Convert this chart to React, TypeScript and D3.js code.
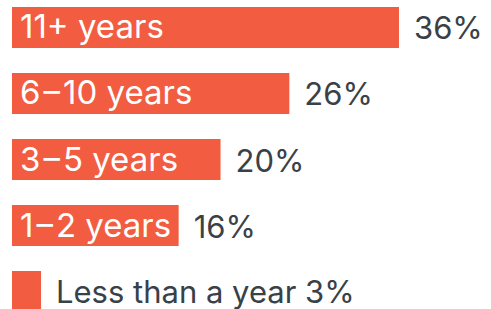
import React from "react";
import * as d3 from "d3";

const categories = ["11+ years", "6\u200A–\u200A10 years", "3\u200A–\u200A5 years", "1\u200A–\u200A2 years", "Less than a year"];
const values = [36, 25.8, 19.4, 15.5, 2.7];
const valueLabels = ["36%", "26%", "20%", "16%", "3%"];

const W = 491;
const H = 309;

export default function App() {
  const x = d3.scaleLinear().domain([0, 36]).range([12, 399]);
  const y = d3.scaleBand<number>().domain(d3.range(categories.length)).range([7, 312]).paddingInner(0.379).paddingOuter(0);
  const font = "Inter, 'Noto Sans', sans-serif";
  return (
    <svg width={W} height={H} style={{ position: "absolute", left: 0, top: 0 }}>
      {categories.map((c, i) => {
        const y0 = y(i)!;
        const bh = y.bandwidth();
        const x1 = x(values[i]);
        const inside = i < 4;
        return (
          <g key={c}>
            <rect x={x(0)} y={y0} width={x1 - x(0)} height={bh} fill="#f25c41" />
            {inside ? (
              <>
                <text x={x(0) + 8} y={y0 + bh / 2 + 11} fill="#ffffff" fontFamily={font} fontSize={33}>{c}</text>
                <text x={x1 + 15} y={y0 + bh / 2 + 12} fill="#394148" fontFamily={font} fontSize={31}>{valueLabels[i]}</text>
              </>
            ) : (
              <text x={x1 + 15} y={y0 + bh / 2 + 11.5} fill="#394148" fontFamily={font} fontSize={31}>{c + " " + valueLabels[i]}</text>
            )}
          </g>
        );
      })}
    </svg>
  );
}
